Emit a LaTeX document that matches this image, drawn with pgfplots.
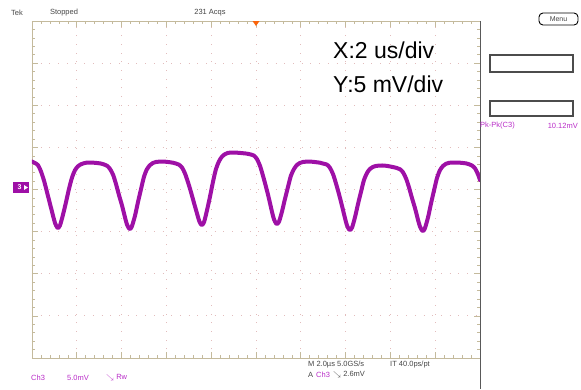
\documentclass[border=0pt]{standalone}
\usepackage{fontspec}
\setmainfont{Liberation Sans}
\usepackage{pgfplots}
\pgfplotsset{compat=1.18}
\usepackage{pgfplotstable}

\definecolor{wave}{RGB}{158,16,166}
\definecolor{lbl}{RGB}{185,45,200}
\definecolor{frame}{RGB}{196,186,156}
\definecolor{gridc}{RGB}{226,188,188}
\definecolor{txt}{RGB}{70,70,70}
\definecolor{trig}{RGB}{250,100,10}

% Ch3 trace: time in us, voltage in mV
\pgfplotstableread{
t v
0.00 3.32
0.13 3.15
0.27 2.88
0.40 2.15
0.54 1.02
0.67 -0.32
0.80 -1.66
0.94 -3.12
1.03 -4.00
1.12 -4.49
1.16 -4.57
1.25 -4.26
1.38 -3.03
1.52 -1.48
1.65 0.06
1.79 1.45
1.92 2.30
2.05 2.75
2.19 3.00
2.32 3.12
2.46 3.20
2.81 3.17
3.08 3.08
3.21 2.98
3.35 2.82
3.48 2.45
3.62 1.75
3.75 0.65
3.88 -0.63
4.02 -1.91
4.15 -3.30
4.24 -4.15
4.33 -4.62
4.38 -4.69
4.46 -4.37
4.60 -3.10
4.73 -1.51
4.87 0.08
5.00 1.52
5.13 2.40
5.27 2.90
5.40 3.15
5.54 3.27
5.80 3.32
6.03 3.28
6.29 3.18
6.43 3.08
6.56 2.95
6.70 2.60
6.83 1.90
6.96 0.90
7.10 -0.33
7.23 -1.57
7.37 -2.88
7.46 -3.70
7.54 -4.14
7.59 -4.21
7.68 -3.87
7.81 -2.50
7.95 -0.80
8.08 0.91
8.21 2.40
8.35 3.35
8.48 3.90
8.62 4.20
8.75 4.35
9.02 4.39
9.24 4.35
9.55 4.27
9.73 4.18
9.91 4.02
10.04 3.62
10.18 2.80
10.31 1.65
10.45 0.28
10.58 -1.10
10.71 -2.60
10.80 -3.51
10.89 -4.01
10.94 -4.09
11.03 -3.80
11.16 -2.62
11.29 -1.15
11.43 0.32
11.56 1.65
11.70 2.45
11.83 2.92
11.96 3.15
12.10 3.27
12.37 3.32
12.59 3.27
12.86 3.18
12.99 3.08
13.17 2.95
13.30 2.58
13.44 1.82
13.57 0.72
13.71 -0.60
13.84 -1.95
13.97 -3.37
14.06 -4.25
14.15 -4.72
14.20 -4.81
14.29 -4.50
14.42 -3.29
14.55 -1.77
14.69 -0.25
14.82 1.12
14.96 1.98
15.09 2.45
15.22 2.68
15.36 2.80
15.63 2.85
15.85 2.80
16.12 2.66
16.29 2.55
16.43 2.40
16.56 2.05
16.70 1.30
16.83 0.25
16.96 -0.98
17.10 -2.23
17.23 -3.58
17.32 -4.40
17.41 -4.85
17.46 -4.93
17.54 -4.61
17.68 -3.31
17.81 -1.70
17.95 -0.08
18.08 1.36
18.21 2.28
18.35 2.80
18.48 3.05
18.62 3.17
18.88 3.20
19.11 3.18
19.38 3.10
19.51 3.00
19.64 2.85
19.78 2.50
19.91 1.80
20.00 1.13
}\chthree

\begin{document}
\begin{tikzpicture}[x=1pt,y=-1pt]
\useasboundingbox (0,0) rectangle (581,389);
\begin{axis}[
  at={(32pt,-358pt)}, anchor=south west,
  width=448pt, height=337pt, scale only axis,
  xmin=0, xmax=20, ymin=-20, ymax=20,
  xtick={0,2,...,20}, ytick={-20,-15,...,20},
  minor x tick num=4, minor y tick num=4,
  xticklabels={}, yticklabels={},
  tick align=inside,
  major tick length=6pt, minor tick length=3pt,
  axis line style={color=frame, line width=0.9pt},
  every tick/.style={color=frame, line width=0.7pt},
  every minor tick/.style={color=frame, line width=0.6pt},
  grid=major,
  major grid style={color=gridc, line width=0.9pt, dash pattern=on 0.9pt off 7.8pt},
]
\addplot[wave, line width=4pt, line join=round, line cap=round, smooth, tension=0.45] table[x=t, y=v] {\chthree};
\end{axis}

% right edge of the graticule
\draw[gray!70!black, line width=1.6pt] (480.5,21) -- (480.5,389);

% trigger marker
\fill[trig] (252.5,21) -- (259.5,21) -- (256,26) -- cycle;

% ground marker
\fill[wave] (13,182) rectangle (29,193);
\node[white, font=\fontsize{7}{7}\selectfont\bfseries, inner sep=0pt] at (19.5,187.5) {3};
\fill[white] (24,185) -- (28,187.5) -- (24,190) -- cycle;

% header
\begin{scope}[every node/.style={font=\fontsize{7.5}{7.5}\selectfont, text=txt, inner sep=0pt}]
\node at (17,13) {Tek};
\node at (64,13) {Stopped};
\node at (210,13) {231 Acqs};
\end{scope}
\draw[black, line width=0.9pt, rounded corners=4pt] (539,13) rectangle (578,25);
\node[font=\fontsize{7}{7}\selectfont, text=txt, inner sep=0pt] at (558.5,19) {Menu};

% side panel
\draw[gray!60!black, line width=1.1pt] (490,55) rectangle (573,72);
\draw[gray!60!black, line width=1.1pt] (490,101) rectangle (573,116);
\node[anchor=west, font=\fontsize{7.5}{7.5}\selectfont, text=lbl, inner sep=0pt] at (480,126) {Pk-Pk(C3)};
\node[anchor=east, font=\fontsize{7.5}{7.5}\selectfont, text=lbl, inner sep=0pt] at (578,126) {10.12mV};

% scale annotation
\node[anchor=base west, font=\fontsize{23}{23}\selectfont, inner sep=0pt] at (333,58) {X:2 us/div};
\node[anchor=base west, font=\fontsize{23}{23}\selectfont, inner sep=0pt] at (333,92) {Y:5 mV/div};

% footer
\begin{scope}[every node/.style={font=\fontsize{7.5}{7.5}\selectfont, anchor=west, inner sep=0pt}]
\node[text=lbl] at (31,378) {Ch3};
\node[text=lbl] at (67,378) {5.0mV};
\node[text=lbl] at (106,378) {$\searrow$ Rw};
\node[text=txt] at (308,365) {M 2.0µs 5.0GS/s};
\node[text=txt] at (390,365) {IT 40.0ps/pt};
\node[text=txt] at (308,375) {A};
\node[text=lbl] at (316,375) {Ch3};
\node[text=txt] at (333,375) {$\searrow$ 2.6mV};
\end{scope}
\end{tikzpicture}
\end{document}
